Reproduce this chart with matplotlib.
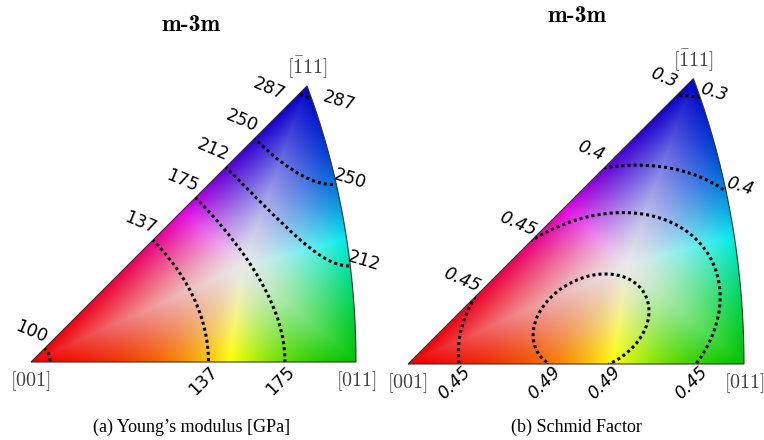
import numpy as np
import matplotlib.pyplot as plt
from matplotlib.path import Path
from matplotlib.patches import PathPatch
from matplotlib.colors import hsv_to_rgb

plt.rcParams['mathtext.fontset'] = 'cm'

# corners of the cubic standard triangle
VERTEX_DIRS = [(0, 0, 1), (0, 1, 1), (-1, 1, 1)]
VERTEX_LABELS = [r'$[001]$', r'$[011]$', r'$[\bar{1}11]$']

# Young's modulus along <001> and <111> [GPa]
E_001 = 99.6
E_111 = 287.8
E_LEVELS = [100, 137, 175, 212, 250, 287]
E_LABELS = ['100', '137', '175', '212', '250', '287']

# fcc slip systems {111}<110>
SLIP_PLANES = [(1, 1, 1), (-1, 1, 1), (1, -1, 1), (1, 1, -1)]
SLIP_DIRS = [[(0, 1, -1), (1, 0, -1), (1, -1, 0)],
             [(0, 1, -1), (1, 0, 1), (1, 1, 0)],
             [(0, 1, 1), (1, 0, -1), (1, 1, 0)],
             [(0, 1, 1), (1, 0, 1), (1, -1, 0)]]
SF_LEVELS = [0.3, 0.4, 0.45, 0.49]
SF_LABELS = ['0.3', '0.4', '0.45', '0.49']

TITLES = ['m-3m', 'm-3m']
CAPTIONS = ['(a) Young\u2019s modulus [GPa]', '(b) Schmid Factor']

W, H = 764, 440


def project(d):
    """equal-area projection of unit vectors onto the plot plane"""
    d = np.asarray(d, float)
    d = d / np.linalg.norm(d, axis=-1, keepdims=True)
    x, y, z = d[..., 0], d[..., 1], d[..., 2]
    r = np.sqrt(np.clip(2 * (1 - z), 0, None))
    rho = np.hypot(x, y)
    s = np.divide(r, rho, out=np.zeros_like(r), where=rho > 0)
    return y * s, -x * s


def unproject(u, v):
    r = np.hypot(u, v)
    z = 1 - r ** 2 / 2
    rho = np.sqrt(np.clip(1 - z ** 2, 0, None))
    s = np.divide(rho, r, out=np.zeros_like(r), where=r > 0)
    return -v * s, u * s, z


def youngs(x, y, z):
    g = x * x * y * y + y * y * z * z + z * z * x * x
    return 1 / (1 / E_001 - (1 / E_001 - 1 / E_111) * 3 * g)


def schmid(x, y, z):
    d = np.stack([x, y, z], -1)
    m = np.zeros(np.shape(x))
    for n, dirs in zip(SLIP_PLANES, SLIP_DIRS):
        n = np.array(n, float) / np.linalg.norm(n)
        cphi = np.abs(d @ n)
        for b in dirs:
            b = np.array(b, float) / np.linalg.norm(b)
            m = np.maximum(m, cphi * np.abs(d @ b))
    return m


# triangle outline in projected coordinates
vu, vv = project(np.array(VERTEX_DIRS, float))
t = np.linspace(0, 1, 300)
a = np.array(VERTEX_DIRS[1], float) / np.sqrt(2)
b = np.array(VERTEX_DIRS[2], float) / np.sqrt(3)
arc_u, arc_v = project((1 - t)[:, None] * a + t[:, None] * b)

edges = {
    'bottom': (np.linspace(vu[0], vu[1], 600), np.linspace(vv[0], vv[1], 600)),
    'right': project((1 - np.linspace(0, 1, 600))[:, None] * a + np.linspace(0, 1, 600)[:, None] * b),
    'left': (np.linspace(vu[2], vu[0], 600), np.linspace(vv[2], vv[0], 600)),
}
bnd_u = np.concatenate([e[0] for e in edges.values()])
bnd_v = np.concatenate([e[1] for e in edges.values()])
outline = np.column_stack([np.r_[vu[0], arc_u, vu[0]], np.r_[vv[0], arc_v, vv[0]]])

# colour key centre: spherical middle of the triangle
cdir = sum(np.array(d, float) / np.linalg.norm(d) for d in VERTEX_DIRS)
cu, cv = project(cdir)

U, V = np.meshgrid(np.linspace(-0.01, 0.78, 460), np.linspace(-0.01, 0.67, 400))
X, Y, Z = unproject(U, V)


def ipf_rgb(U, V):
    ang = np.arctan2(V - cv, U - cu)
    ba = np.arctan2(bnd_v - cv, bnd_u - cu)
    br = np.hypot(bnd_u - cu, bnd_v - cv)
    o = np.argsort(ba)
    rb = np.interp(ang, ba[o], br[o], period=2 * np.pi)
    sat = np.clip(np.hypot(U - cu, V - cv) / rb, 0, 1)
    va = np.arctan2(vv - cv, vu - cu)
    rel = (ang - va[0]) % (2 * np.pi)
    g = (va[1] - va[0]) % (2 * np.pi)
    bl = (va[2] - va[0]) % (2 * np.pi)
    hue = np.interp(rel, [0, g, bl, 2 * np.pi], [0, 1 / 3, 2 / 3, 1])
    vmax = np.interp(hue, [0, 1 / 6, 1 / 3, 1 / 2, 2 / 3, 5 / 6, 1],
                     [0.93, 1.0, 0.76, 0.92, 0.78, 0.88, 0.93])
    val = 0.91 + 0.09 * sat
    val = val - sat ** 2 * (1 - vmax)
    return hsv_to_rgb(np.stack([hue, sat ** 1.25, val], -1))


RGB = ipf_rgb(U, V)


def crossings(level, field):
    out = []
    for name, (eu, ev) in edges.items():
        f = field(*unproject(eu, ev)) - level
        idx = np.where(np.sign(f[:-1]) != np.sign(f[1:]))[0]
        for i in idx:
            s = f[i] / (f[i] - f[i + 1])
            out.append((name, eu[i] + s * (eu[i + 1] - eu[i]), ev[i] + s * (ev[i + 1] - ev[i])))
    return out


label_style = {
    'bottom': ((-5, -19), 45),
    'left': ((-13, 17), -23),
    'right': ((14, 5), -17),
}


def draw_panel(rect, field, levels, labels, italic):
    ax = fig.add_axes(rect)
    ax.set_xlim(-0.05, 0.82)
    ax.set_ylim(-0.06, 0.70)
    ax.axis('off')
    ax.patch.set_alpha(0)

    clip = PathPatch(Path(outline), fc='none', ec='none', transform=ax.transData)
    ax.add_patch(clip)
    im = ax.imshow(RGB, origin='lower', extent=(U.min(), U.max(), V.min(), V.max()),
                   interpolation='bilinear', aspect='auto', zorder=1)
    im.set_clip_path(clip)

    F = field(X, Y, Z)
    cs = ax.contour(U, V, F, levels=levels, colors='k', linewidths=2.2, zorder=3)
    cs.set_linestyle((0, (1, 1)))
    cs.set_clip_path(clip)

    ax.add_patch(PathPatch(Path(outline), fc='none', ec='#333333', lw=0.8, zorder=4))

    for lev, lab in zip(levels, labels):
        for name, pu, pv in crossings(lev, field):
            if name == 'bottom' and pu < 0.1:
                continue
            (dx, dy), rot = label_style[name]
            if np.hypot(pu - vu[2], pv - vv[2]) < 0.03:
                dx, dy = (dx - 18, dy - 13) if name == 'left' else (dx + 14, dy - 8)
            ax.annotate(lab, (pu, pv), xytext=(dx, dy), textcoords='offset pixels',
                        ha='center', va='center', rotation=rot, fontsize=12.5,
                        style='italic' if italic else 'normal', zorder=5)

    offs = [(-1, -19), (0, -19), (0, 19)]
    for (pu, pv), lab, (dx, dy) in zip(zip(vu, vv), VERTEX_LABELS, offs):
        ax.annotate(lab, (pu, pv), xytext=(dx, dy), textcoords='offset pixels',
                    ha='center', va='center', fontsize=14.5, color='#444444')
    return ax


fig = plt.figure(figsize=(W / 100, H / 100), dpi=100)


def px_rect(x0, y_bottom, scale):
    # axes rectangle so that data (0, 0) sits at pixel (x0, y_bottom from bottom)
    left = x0 - 0.05 * scale
    bottom = y_bottom - 0.06 * scale
    return [left / W, bottom / H, 0.87 * scale / W, 0.76 * scale / H]


draw_panel(px_rect(31, 78, 424.6), youngs, E_LEVELS, E_LABELS, False)
draw_panel(px_rect(408, 76, 439.0), schmid, SF_LEVELS, SF_LABELS, True)

for (x, y), txt in zip([(191, 25), (577, 16)], TITLES):
    fig.text(x / W, 1 - y / H, txt, ha='center', va='center', fontsize=17,
             family='cmb10')
for (x, y), txt in zip([(192, 427), (576, 427)], CAPTIONS):
    fig.text(x / W, 1 - y / H, txt, ha='center', va='center', fontsize=13,
             family='Liberation Serif')

fig.savefig('out.png', dpi=100)
